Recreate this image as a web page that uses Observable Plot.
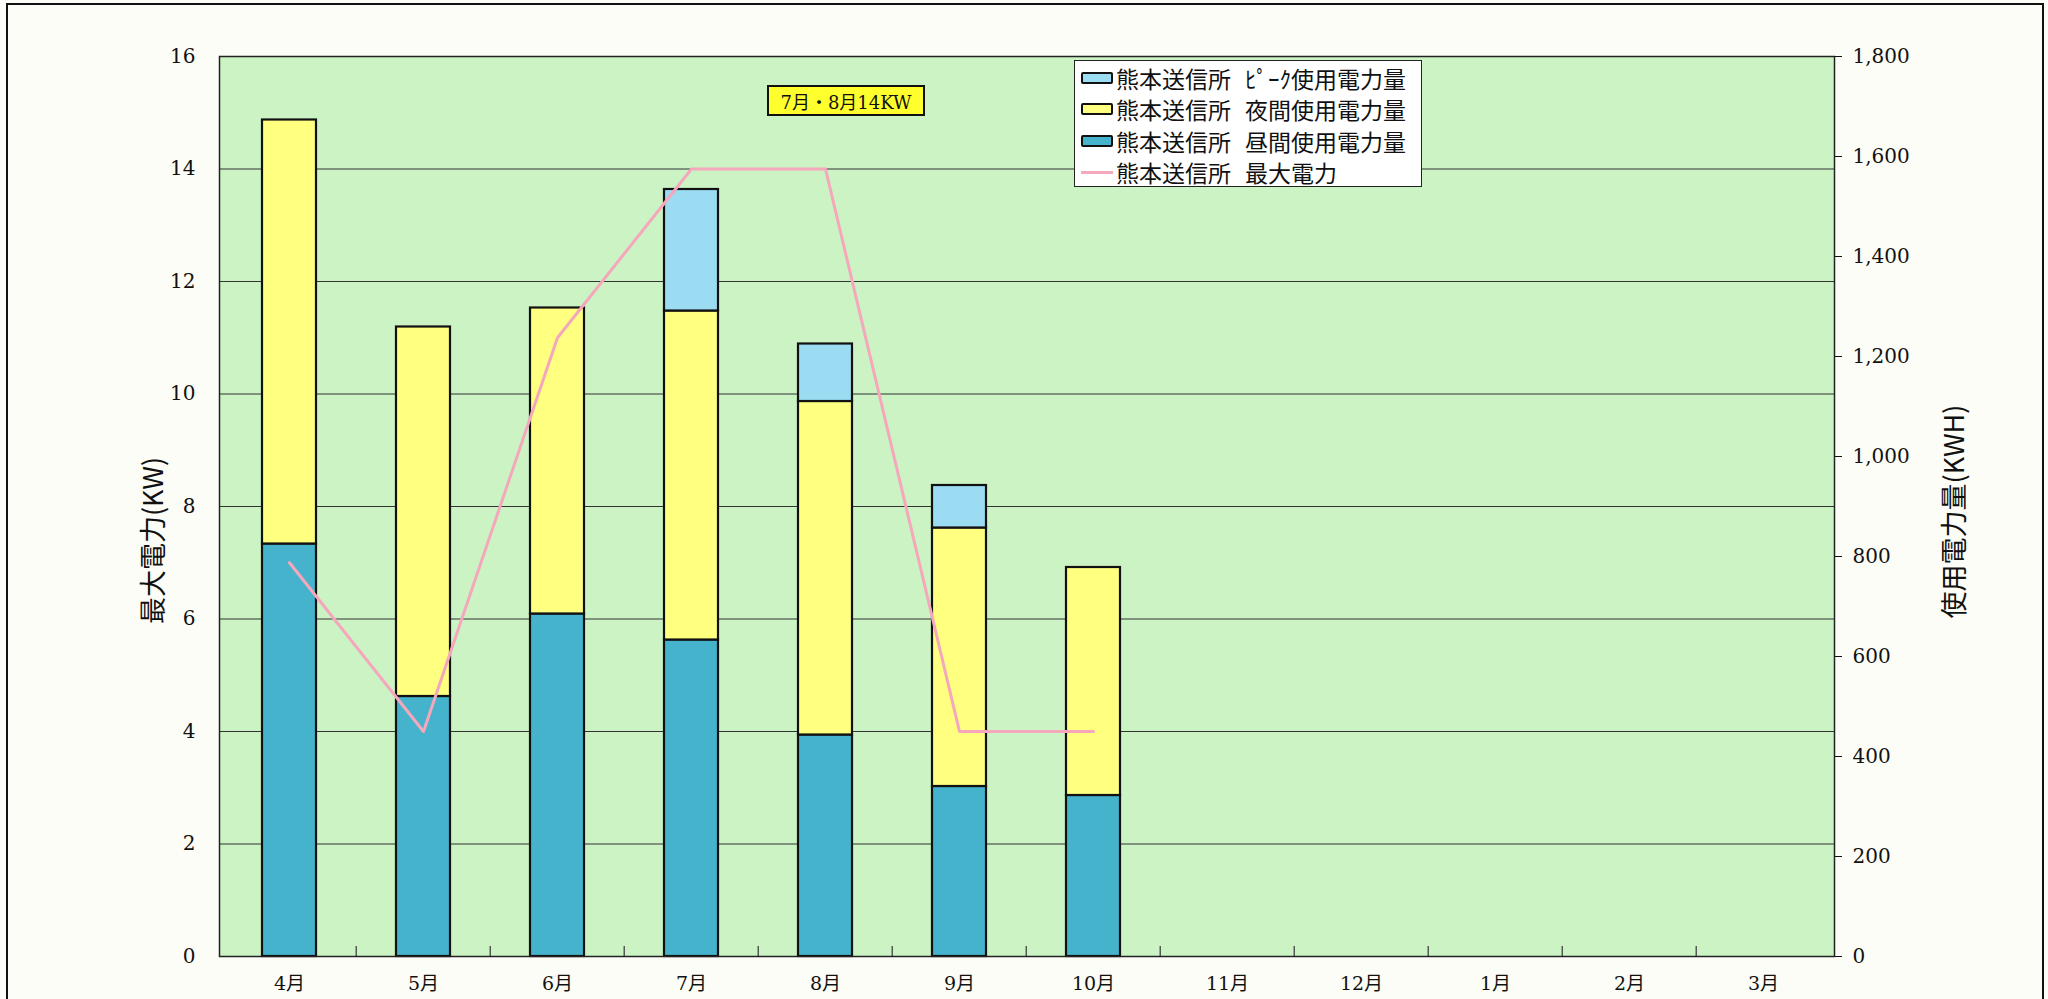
<!DOCTYPE html>
<html>
<head>
<meta charset="utf-8">
<script src="https://cdn.jsdelivr.net/npm/d3@7"></script>
<script src="https://cdn.jsdelivr.net/npm/@observablehq/plot@0.6"></script>
<style>
  html, body { margin: 0; padding: 0; background: #fdfdf7; }
  #wrap { position: relative; width: 2048px; height: 999px; overflow: hidden; background: #fdfdf7; }
  #border { position: absolute; left: 6px; top: 3px; width: 2034px; height: 1000px; border: 2px solid #111; border-bottom: none; pointer-events: none; }
  #legend { position: absolute; left: 1074px; top: 60px; width: 348px; height: 127px; background: #fff; border: 1.5px solid #222;
            font-family: "Noto Sans CJK JP", sans-serif; font-size: 23px; color: #111; box-sizing: border-box; padding-top: 1px; }
  .row { height: 31.5px; display: flex; align-items: center; white-space: nowrap; }
  .sw { width: 28px; height: 8px; border: 2px solid #111; margin-left: 6px; margin-right: 3px; border-radius: 2px; }
  .ln { width: 32px; height: 3px; margin-left: 6px; margin-right: 3px; }
  .gap { display: inline-block; width: 14px; }
  #note { position: absolute; left: 767px; top: 85px; width: 158px; height: 31px; box-sizing: border-box; background: #ffff2e; border: 2px solid #111;
          font-family: "DejaVu Serif", "Noto Sans CJK JP", serif; font-size: 18px; display: flex; align-items: center; justify-content: center; color: #111; }
</style>
</head>
<body>
<div id="wrap">
  <div id="chart"></div>
  <div id="legend"></div>
  <div id="note"></div>
  <div id="border"></div>
</div>
<script>
// ---- data ----
const months = ["4月","5月","6月","7月","8月","9月","10月","11月","12月","1月","2月","3月"];
const dayKwh   = [825, 520, 685, 633, 443, 340, 322];   // 昼間使用電力量 (KWH)
const nightKwh = [848, 739, 612, 658, 667, 517, 456];   // 夜間使用電力量 (KWH)
const peakKwh  = [0,   0,   0,   243, 115, 85,  0];     // ピーク使用電力量 (KWH)
const maxKw    = [7, 4, 11, 14, 14, 4, 4];              // 最大電力 (KW)
const leftTicks  = [0, 2, 4, 6, 8, 10, 12, 14, 16];
const rightTicks = [0, 200, 400, 600, 800, 1000, 1200, 1400, 1600, 1800];
const station = "熊本送信所";
const seriesLabels = ["ﾋﾟｰｸ使用電力量", "夜間使用電力量", "昼間使用電力量"];
const lineLabel = "最大電力";
const noteText = "7月・8月14KW";
const leftLabel = "最大電力(KW)";
const rightLabel = "使用電力量(KWH)";

// ---- build ----
const seriesNames = seriesLabels.map(s => station + " " + s);
const colors = { peak: "#9bdcf2", night: "#ffff80", day: "#45b3cc", line: "#f5a7bc" };
const K = 16 / 1800; // KWH -> KW-scale (right axis 1800 aligns with left 16)

const rows = [];
dayKwh.forEach((v, i) => rows.push({ month: months[i], series: seriesNames[2], kwh: v }));
nightKwh.forEach((v, i) => rows.push({ month: months[i], series: seriesNames[1], kwh: v }));
peakKwh.forEach((v, i) => { if (v > 0) rows.push({ month: months[i], series: seriesNames[0], kwh: v }); });
const lineData = maxKw.map((v, i) => ({ month: months[i], kw: v }));

const W = 2048, H = 999;
const mL = 219, mR = 214, mT = 56, mB = 43;
const step = (W - mL - mR) / months.length;
const numFont = "'DejaVu Serif', 'Noto Sans CJK JP', serif";

const chart = Plot.plot({
  width: W, height: H,
  marginLeft: mL, marginRight: mR, marginTop: mT, marginBottom: mB,
  style: { background: "transparent", fontFamily: numFont, fontSize: "20px", color: "#111" },
  x: { type: "band", domain: months, paddingInner: 0.595, paddingOuter: 0.2975 },
  y: { domain: [0, 16] },
  color: { domain: seriesNames, range: [colors.peak, colors.night, colors.day] },
  marks: [
    Plot.frame({ fill: "#ccf3c4", stroke: null }),
    Plot.ruleY(leftTicks.filter(d => d > 0 && d < 16), { stroke: "#333", strokeWidth: 1.2 }),
    Plot.ruleX(months.slice(1), { x: d => d, dx: -step / 2, y1: 0, y2: 0.18, stroke: "#333", strokeWidth: 1.2 }),
    Plot.barY(rows, {
      x: "month", y: d => d.kwh * K, fill: "series", z: "series",
      order: [seriesNames[2], seriesNames[1], seriesNames[0]],
      stroke: "#111", strokeWidth: 2.2
    }),
    Plot.line(lineData, { x: "month", y: "kw", stroke: colors.line, strokeWidth: 3 }),
    Plot.frame({ stroke: "#222", strokeWidth: 1.5 }),
    Plot.axisY({ anchor: "left", ticks: leftTicks, tickSize: 0, tickPadding: 24, label: null, fontSize: 20, fontFamily: numFont }),
    Plot.axisY({ anchor: "right", ticks: rightTicks.map(v => v * K), tickFormat: d => d3.format(",")(Math.round(d / K)),
                 tickSize: 7, tickPadding: 11, label: null, fontSize: 20, fontFamily: numFont }),
    Plot.axisX({ tickSize: 0, tickPadding: 20, label: null, fontSize: 19, fontFamily: numFont }),
    Plot.text([leftLabel], { text: d => d, frameAnchor: "left", textAnchor: "middle", dx: -65, dy: 34, rotate: -90,
                             fontSize: 27, fontFamily: "'Noto Sans CJK JP', sans-serif", fill: "#111" }),
    Plot.text([rightLabel], { text: d => d, frameAnchor: "right", textAnchor: "middle", dx: 121, dy: 5, rotate: -90,
                              fontSize: 27, fontFamily: "'Noto Sans CJK JP', sans-serif", fill: "#111" })
  ]
});
document.getElementById("chart").appendChild(chart);

// legend
const legend = document.getElementById("legend");
function addRow(label, swatchClass, c) {
  const r = document.createElement("div"); r.className = "row";
  const s = document.createElement("span"); s.className = swatchClass; s.style.background = c;
  const t1 = document.createElement("span"); t1.textContent = station;
  const g = document.createElement("span"); g.className = "gap";
  const t2 = document.createElement("span"); t2.textContent = label;
  r.append(s, t1, g, t2); legend.appendChild(r);
}
addRow(seriesLabels[0], "sw", colors.peak);
addRow(seriesLabels[1], "sw", colors.night);
addRow(seriesLabels[2], "sw", colors.day);
addRow(lineLabel, "ln", colors.line);
document.getElementById("note").textContent = noteText;
</script>
</body>
</html>
